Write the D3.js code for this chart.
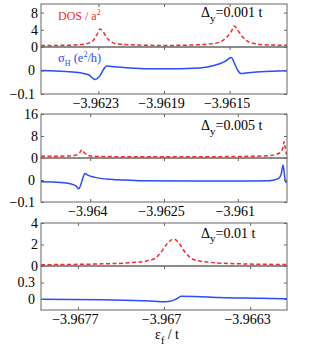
<!DOCTYPE html>
<html>
<head>
<meta charset="utf-8">
<script src="https://cdn.jsdelivr.net/npm/d3@7"></script>
<style>
  body { margin: 0; background: #fff; }
  text { font-family: "Liberation Serif", "Times New Roman", serif; }
</style>
</head>
<body>
<svg id="chart" width="318" height="351"></svg>
<script>
// ---- panel 1 : Δy = 0.001 t
const xDomain1 = [-3.96265, -3.96115];
const xTicks1 = [-3.9623, -3.9619, -3.9615];
const dosTicks1 = [0, 4, 8];
const sigmaTicks1 = [-0.1, 0];
const dosEnergy1 = [-3.96265, -3.9625, -3.9624, -3.96236, -3.96233, -3.96231, -3.96229, -3.96227, -3.96225, -3.96222, -3.9622, -3.9621, -3.962, -3.9619, -3.9618, -3.9617, -3.9616, -3.96155, -3.96152, -3.96149, -3.96147, -3.96145, -3.96142, -3.96139, -3.96135, -3.9613, -3.96115];
const dos1 = [0.35, 0.4, 0.6, 0.9, 1.6, 2.8, 4.2, 3.5, 2.2, 1.2, 0.8, 0.5, 0.4, 0.35, 0.4, 0.5, 0.8, 1.3, 2.2, 3.6, 4.9, 3.9, 2.3, 1.3, 0.8, 0.55, 0.4];
const sigmaEnergy1 = [-3.96265, -3.9625, -3.96241, -3.96236, -3.96232, -3.96229, -3.96227, -3.96225, -3.96222, -3.96211, -3.96192, -3.96168, -3.96159, -3.96153, -3.96149, -3.96147, -3.96145, -3.96143, -3.9614, -3.96131, -3.96115];
const sigma1 = [0.0, -0.004, -0.01, -0.018, -0.038, -0.022, 0.003, 0.019, 0.017, 0.011, 0.007, 0.011, 0.022, 0.038, 0.055, 0.03, 0.0, -0.013, -0.011, -0.005, -0.001];

// ---- panel 2 : Δy = 0.005 t
const xDomain2 = [-3.965, -3.960];
const xTicks2 = [-3.964, -3.9625, -3.961];
const dosTicks2 = [0, 8, 16];
const sigmaTicks2 = [-0.1, 0];
const dosEnergy2 = [-3.965, -3.9645, -3.9643, -3.96422, -3.96417, -3.96412, -3.96405, -3.9639, -3.963, -3.962, -3.961, -3.9604, -3.96015, -3.96008, -3.96006, -3.96004, -3.96002, -3.96];
const dos2 = [0.6, 0.7, 1.0, 1.8, 3.0, 1.9, 1.0, 0.6, 0.45, 0.45, 0.55, 0.8, 1.8, 4, 6, 4, 2, 1.2];
const sigmaEnergy2 = [-3.965, -3.9646, -3.9644, -3.96429, -3.96423, -3.96419, -3.96414, -3.96411, -3.96405, -3.9639, -3.9636, -3.963, -3.962, -3.961, -3.96035, -3.96018, -3.96012, -3.96008, -3.96005, -3.96003, -3.96];
const sigma2 = [-0.008, -0.011, -0.017, -0.027, -0.04, -0.02, 0.015, 0.03, 0.022, 0.012, 0.003, -0.003, -0.005, -0.005, -0.003, 0.006, 0.025, 0.068, 0.02, -0.008, -0.012];

// ---- panel 3 : Δy = 0.01 t
const xDomain3 = [-3.968, -3.966];
const xTicks3 = [-3.9677, -3.967, -3.9663];
const dosTicks3 = [0, 2, 4];
const sigmaTicks3 = [0, 0.3];
const dosEnergy3 = [-3.968, -3.9675, -3.96728, -3.96715, -3.96707, -3.96703, -3.96698, -3.96692, -3.96687, -3.96683, -3.96675, -3.96663, -3.96638, -3.966];
const dos3 = [0.12, 0.2, 0.3, 0.45, 0.72, 1.2, 2.0, 2.5, 2.0, 1.3, 0.56, 0.35, 0.2, 0.14];
const sigmaEnergy3 = [-3.968, -3.9675, -3.96711, -3.96703, -3.96695, -3.9669, -3.96686, -3.96675, -3.96655, -3.96622, -3.966];
const sigma3 = [-0.005, -0.015, -0.035, -0.05, -0.04, 0.0, 0.05, 0.045, 0.027, 0.013, 0.003];

const deltaLabels = ['=0.001 t', '=0.005 t', '=0.01 t'];

const svg = d3.select('#chart');
const left = 41, right = 287;
const frameColor = '#666';
const dosColor = '#f52a2a';
const sigmaColor = '#2a4bff';
const fmt = d => String(d).replace('-', '\u2212');

const panels = [
  { top: 4, mid: 47, bottom: 94, xDomain: xDomain1, xTicks: xTicks1, dosDomain: [0, 10], dosTicks: dosTicks1,
    sigmaDomain: [-0.1, 0.1], sigmaTicks: sigmaTicks1, dosX: dosEnergy1, dos: dos1, sigmaX: sigmaEnergy1, sigma: sigma1, deltaBase: 17 },
  { top: 114, mid: 158, bottom: 202, xDomain: xDomain2, xTicks: xTicks2, dosDomain: [0, 16], dosTicks: dosTicks2,
    sigmaDomain: [-0.1, 0.1], sigmaTicks: sigmaTicks2, dosX: dosEnergy2, dos: dos2, sigmaX: sigmaEnergy2, sigma: sigma2, deltaBase: 130 },
  { top: 223, mid: 266, bottom: 310, xDomain: xDomain3, xTicks: xTicks3, dosDomain: [0, 4], dosTicks: dosTicks3,
    sigmaDomain: [-0.2, 0.6], sigmaTicks: sigmaTicks3, dosX: dosEnergy3, dos: dos3, sigmaX: sigmaEnergy3, sigma: sigma3, deltaBase: 237.5 }
];

function drawAxes(x, y, top, bottom, yTicks, xLabels) {
  const g = svg.append('g');
  // inward ticks on all four sides, like a boxed matlab axes
  g.append('g').attr('transform', 'translate(0,' + bottom + ')')
    .call(d3.axisBottom(x).tickValues(xLabels).tickSize(-3).tickPadding(4).tickFormat(fmt))
    .call(a => a.select('.domain').remove());
  g.append('g').attr('transform', 'translate(0,' + top + ')')
    .call(d3.axisTop(x).tickValues(x.ticksList).tickSize(-3).tickFormat(''))
    .call(a => a.select('.domain').remove());
  g.append('g').attr('transform', 'translate(' + left + ',0)')
    .call(d3.axisLeft(y).tickValues(yTicks).tickSize(-3).tickPadding(3).tickFormat(fmt))
    .call(a => a.select('.domain').remove());
  g.append('g').attr('transform', 'translate(' + right + ',0)')
    .call(d3.axisRight(y).tickValues(yTicks).tickSize(-3).tickFormat(''))
    .call(a => a.select('.domain').remove());
  g.selectAll('.tick line').attr('stroke', frameColor);
  g.selectAll('.tick text').attr('fill', '#000').style('font-size', '14px');
  g.append('rect')
    .attr('x', left).attr('y', top)
    .attr('width', right - left).attr('height', bottom - top)
    .attr('fill', 'none').attr('stroke', frameColor).attr('stroke-width', 1);
  return g;
}

panels.forEach((p, i) => {
  const x = d3.scaleLinear().domain(p.xDomain).range([left, right]);
  x.ticksList = p.xTicks;
  const yDos = d3.scaleLinear().domain(p.dosDomain).range([p.mid, p.top]);
  const ySigma = d3.scaleLinear().domain(p.sigmaDomain).range([p.bottom, p.mid]);

  const clipId = 'clip' + i;
  svg.append('clipPath').attr('id', clipId)
    .append('rect').attr('x', left).attr('y', p.top).attr('width', right - left).attr('height', p.bottom - p.top);

  // DOS curve (upper axes)
  const dosLine = d3.line().x(d => x(d[0])).y(d => yDos(d[1])).curve(d3.curveMonotoneX);
  svg.append('path')
    .datum(d3.zip(p.dosX, p.dos))
    .attr('clip-path', 'url(#' + clipId + ')')
    .attr('d', dosLine)
    .attr('fill', 'none')
    .attr('stroke', dosColor)
    .attr('stroke-width', 1.5)
    .attr('stroke-dasharray', '4,2.5');

  // Hall conductance (lower axes)
  const sigmaLine = d3.line().x(d => x(d[0])).y(d => ySigma(d[1])).curve(d3.curveMonotoneX);
  svg.append('path')
    .datum(d3.zip(p.sigmaX, p.sigma))
    .attr('clip-path', 'url(#' + clipId + ')')
    .attr('d', sigmaLine)
    .attr('fill', 'none')
    .attr('stroke', sigmaColor)
    .attr('stroke-width', 1.5);

  drawAxes(x, yDos, p.top, p.mid, p.dosTicks, []);
  const lower = drawAxes(x, ySigma, p.mid, p.bottom, p.sigmaTicks, p.xTicks);
  lower.selectAll('.tick text').attr('dx', -3);

  // Δy label
  const t = svg.append('text').attr('x', 201).attr('y', p.deltaBase).style('font-size', '14px');
  t.append('tspan').text('\u0394');
  t.append('tspan').attr('dy', 4.5).style('font-size', '11px').text('y');
  t.append('tspan').attr('dy', -4.5).text(deltaLabels[i]);
});

// series labels in the first panel
const dosText = svg.append('text').attr('x', 58).attr('y', 19.5).attr('fill', dosColor).style('font-size', '12px');
dosText.append('tspan').text('DOS / a');
dosText.append('tspan').attr('dy', -5).style('font-size', '8px').text('2');

const sigmaText = svg.append('text').attr('x', 58).attr('y', 62).attr('fill', sigmaColor).style('font-size', '12.5px');
sigmaText.append('tspan').text('\u03c3');
sigmaText.append('tspan').attr('dy', 4).style('font-size', '8px').text('H');
sigmaText.append('tspan').attr('dy', -4).text(' (e');
sigmaText.append('tspan').attr('dy', -5).style('font-size', '8px').text('2');
sigmaText.append('tspan').attr('dy', 5).text('/h)');

// x axis label
const xLabel = svg.append('text').attr('x', 155).attr('y', 338.5).style('font-size', '14px');
xLabel.append('tspan').text('\u03b5');
xLabel.append('tspan').attr('dy', 5).style('font-size', '10px').text('f');
xLabel.append('tspan').attr('dy', -5).text(' / t');
</script>
</body>
</html>
